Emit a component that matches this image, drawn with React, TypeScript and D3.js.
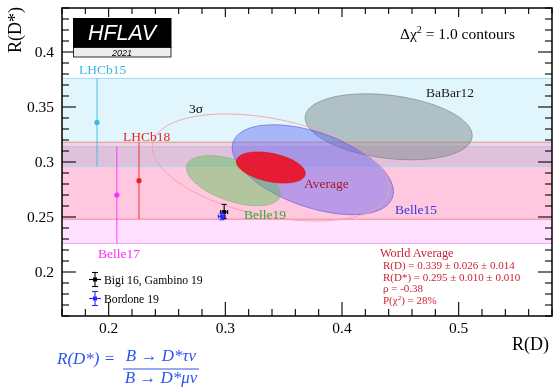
import React from "react";
import * as d3 from "d3";

// ---------- data ----------
const bandNames = ["LHCb15", "LHCb18", "Belle17"];
const bandX = [0.19, 0.226, 0.207];
const bandVal = [0.336, 0.283, 0.27];
const bandLo = [0.296, 0.248, 0.226];
const bandHi = [0.376, 0.318, 0.314];

const ellNames = ["BaBar12", "Belle15", "Belle19"];
const ellRD = [0.44, 0.375, 0.307];
const ellRDstat = [0.058, 0.064, 0.037];
const ellRDsyst = [0.042, 0.026, 0.016];
const ellRDs = [0.332, 0.293, 0.283];
const ellRDsStat = [0.024, 0.038, 0.018];
const ellRDsSyst = [0.018, 0.015, 0.014];
const ellRho = [-0.27, -0.49, -0.51];

const avgRD = 0.339, avgRDstat = 0.026, avgRDsyst = 0.014;
const avgRDs = 0.295, avgRDsStat = 0.01, avgRDsSyst = 0.01;
const avgRho = -0.38;
const sigma3Chi2 = 11.83;

const smNames = ["Bigi 16, Gambino 19", "Bordone 19"];
const smRD = [0.299, 0.297];
const smRDerr = [0.003, 0.003];
const smRDs = [0.2545, 0.2505];
const smRDsErrUp = [0.007, 0.003];
const smRDsErrDn = [0.006, 0.003];

const xTicks = [0.2, 0.3, 0.4, 0.5];
const yTicks = [0.2, 0.25, 0.3, 0.35, 0.4];
const waLines = [
  "R(D) = 0.339 ± 0.026 ± 0.014",
  "R(D*) = 0.295 ± 0.010 ± 0.010",
  "ρ = -0.38",
];

// ---------- layout ----------
const L = 62, R = 552, T = 8, B = 316;
const x = d3.scaleLinear().domain([0.16, 0.58]).range([L, R]);
const y = d3.scaleLinear().domain([0.16, 0.44]).range([B, T]);

const SERIF = "'Liberation Serif', 'Times New Roman', serif";

function ellipsePath(cx: number, cy: number, sx: number, sy: number, rho: number, k = 1) {
  const pts: [number, number][] = d3.range(0, 180).map((i) => {
    const t = (i / 180) * 2 * Math.PI;
    const dx = k * sx * Math.cos(t);
    const dy = k * sy * (rho * Math.cos(t) + Math.sqrt(1 - rho * rho) * Math.sin(t));
    return [x(cx + dx), y(cy + dy)];
  });
  return d3.line().curve(d3.curveLinearClosed)(pts) || "";
}

const bandFill = ["#e0f6fc", "#ffe4df", "#ffe0ff"];
const bandLine = ["#a6d8f2", "#f08a98", "#eea8ee"];
const bandColor = ["#3cb8e8", "#ee2222", "#ff2aff"];
const bandLabelPos = [[0.1746, 0.38], [0.2123, 0.3191], [0.1909, 0.2127]];

const ellFill = ["#7f8c8d", "#5a5af0", "#57c150"];
const ellFillOp = [0.5, 0.42, 0.45];
const ellStroke = ["#6a7478", "#4a4ae8", "#7ab070"];
const ellLabelColor = ["#1a1a1a", "#3535e0", "#33aa33"];
const ellLabelPos = [[0.472, 0.359], [0.4454, 0.2527], [0.316, 0.2482]];

const smColor = ["#000000", "#2a2aff"];

export default function App() {
  const xMinor = d3.range(0.16, 0.5801, 0.02);
  const yMinor = d3.range(0.16, 0.4401, 0.01);
  const isMajorX = (v: number) => xTicks.some((t) => Math.abs(t - v) < 1e-6);
  const isMajorY = (v: number) => yTicks.some((t) => Math.abs(t - v) < 1e-6);

  return (
    <svg width={554} height={388} style={{ display: "block", position: "absolute", left: 0, top: 0 }}>
      <rect x={0} y={0} width={554} height={388} fill="#fff" />
      {/* bands */}
      <g>
        {bandNames.map((n, i) => (
          <rect key={n} x={L} width={R - L} y={y(bandHi[i])} height={y(bandLo[i]) - y(bandHi[i])}
            fill={bandFill[i]} style={{ mixBlendMode: "multiply" }} />
        ))}
        {bandNames.map((n, i) => (
          <g key={n + "l"}>
            <line x1={L} x2={R} y1={y(bandHi[i])} y2={y(bandHi[i])} stroke={bandLine[i]} strokeWidth={1} />
            <line x1={L} x2={R} y1={y(bandLo[i])} y2={y(bandLo[i])} stroke={bandLine[i]} strokeWidth={1} />
          </g>
        ))}
      </g>

      {/* experiment ellipses */}
      {ellNames.map((n, i) => (
        <path key={n}
          d={ellipsePath(ellRD[i], ellRDs[i], Math.hypot(ellRDstat[i], ellRDsyst[i]), Math.hypot(ellRDsStat[i], ellRDsSyst[i]), ellRho[i])}
          fill={ellFill[i]} fillOpacity={ellFillOp[i]} stroke={ellStroke[i]} strokeOpacity={0.7} strokeWidth={0.8} />
      ))}
      {/* 3 sigma */}
      <path d={ellipsePath(avgRD, avgRDs, Math.hypot(avgRDstat, avgRDsyst), Math.hypot(avgRDsStat, avgRDsSyst), avgRho, Math.sqrt(sigma3Chi2))}
        fill="none" stroke="#f2a0a6" strokeWidth={0.9} />
      {/* average */}
      <path d={ellipsePath(avgRD, avgRDs, Math.hypot(avgRDstat, avgRDsyst), Math.hypot(avgRDsStat, avgRDsSyst), avgRho)}
        fill="#ec1026" fillOpacity={0.92} stroke="#d01020" strokeWidth={0.6} />

      {/* band points */}
      {bandNames.map((n, i) => (
        <g key={n + "p"}>
          <line x1={x(bandX[i])} x2={x(bandX[i])} y1={y(bandLo[i])} y2={y(bandHi[i])} stroke={bandColor[i]} strokeOpacity={0.75} strokeWidth={1.2} />
          <circle cx={x(bandX[i])} cy={y(bandVal[i])} r={2.6} fill={bandColor[i]} />
        </g>
      ))}

      {/* SM points */}
      {smNames.map((n, i) => {
        const cx = x(smRD[i]), cy = y(smRDs[i]);
        return (
          <g key={n} stroke={smColor[i]} strokeWidth={1.1}>
            <line x1={x(smRD[i] - smRDerr[i])} x2={x(smRD[i] + smRDerr[i])} y1={cy} y2={cy} />
            <line x1={cx} x2={cx} y1={y(smRDs[i] - smRDsErrDn[i])} y2={y(smRDs[i] + smRDsErrUp[i])} />
            <line x1={cx - 2.5} x2={cx + 2.5} y1={y(smRDs[i] + smRDsErrUp[i])} y2={y(smRDs[i] + smRDsErrUp[i])} />
            <line x1={cx - 2.5} x2={cx + 2.5} y1={y(smRDs[i] - smRDsErrDn[i])} y2={y(smRDs[i] - smRDsErrDn[i])} />
            <line x1={x(smRD[i] - smRDerr[i])} x2={x(smRD[i] - smRDerr[i])} y1={cy - 2} y2={cy + 2} />
            <line x1={x(smRD[i] + smRDerr[i])} x2={x(smRD[i] + smRDerr[i])} y1={cy - 2} y2={cy + 2} />
            <rect x={cx - 2} y={cy - 2} width={4} height={4} fill={smColor[i]} stroke="none" />
          </g>
        );
      })}

      {/* frame and ticks */}
      <g stroke="#000" strokeWidth={1.1}>
        {xMinor.map((v) => {
          const len = isMajorX(v) ? 14 : 7;
          const lenT = isMajorX(v) ? 9 : 6;
          return (
            <g key={"x" + v}>
              <line x1={x(v)} x2={x(v)} y1={B} y2={B - len} />
              <line x1={x(v)} x2={x(v)} y1={T} y2={T + lenT} />
            </g>
          );
        })}
        {yMinor.map((v) => {
          const len = isMajorY(v) ? 14 : 7;
          return (
            <g key={"y" + v}>
              <line x1={L} x2={L + len} y1={y(v)} y2={y(v)} />
              <line x1={R} x2={R - len} y1={y(v)} y2={y(v)} />
            </g>
          );
        })}
      </g>
      <rect x={L} y={T} width={R - L} height={B - T} fill="none" stroke="#000" strokeWidth={1.5} />

      {/* tick labels */}
      <g fontFamily={SERIF} fontSize={15.5} fill="#000">
        {xTicks.map((t) => (
          <text key={t} x={x(t)} y={333} textAnchor="middle">{String(t)}</text>
        ))}
        {yTicks.map((t) => (
          <text key={t} x={54} y={y(t) + 5} textAnchor="end">{String(t)}</text>
        ))}
      </g>
      {/* axis titles */}
      <text transform="translate(21,7) rotate(-90)" textAnchor="end" fontFamily={SERIF} fontSize={18}>R(D*)</text>
      <text x={549} y={350} textAnchor="end" fontFamily={SERIF} fontSize={18}>R(D)</text>

      {/* HFLAV logo */}
      <rect x={73.5} y={18.5} width={97.5} height={29} fill="#000" stroke="#000" />
      <rect x={73.5} y={47.5} width={97.5} height={9.5} fill="#ececec" stroke="#000" strokeWidth={0.8} />
      <text x={122} y={40} textAnchor="middle" fontFamily="'Liberation Sans', Arial, sans-serif" fontStyle="italic" fontSize={21.5} fill="#fff">HFLAV</text>
      <text x={122} y={55.5} textAnchor="middle" fontFamily="'Liberation Sans', Arial, sans-serif" fontStyle="italic" fontSize={9} fill="#000">2021</text>

      {/* contour note */}
      <text x={400} y={39} fontFamily={SERIF} fontSize={15.5}>
        Δχ<tspan dy={-6} fontSize={10}>2</tspan><tspan dy={6}> = 1.0 contours</tspan>
      </text>

      {/* labels */}
      <g fontFamily={SERIF} fontSize={13.5}>
        {bandNames.map((n, i) => (
          <text key={n} x={x(bandLabelPos[i][0])} y={y(bandLabelPos[i][1])} fill={bandColor[i]}>{n}</text>
        ))}
        {ellNames.map((n, i) => (
          <text key={n} x={x(ellLabelPos[i][0])} y={y(ellLabelPos[i][1])} fill={ellLabelColor[i]}>{n}</text>
        ))}
        <text x={x(0.3674)} y={y(0.2764)} fill="#a8142e">Average</text>
        <text x={x(0.2689)} y={y(0.3445)} fill="#000">3σ</text>
      </g>

      {/* world average box */}
      <g fontFamily={SERIF} fill="#cc2233">
        <text x={380} y={257} fontSize={12.3}>World Average</text>
        {waLines.map((s, i) => (
          <text key={s} x={383} y={269 + i * 11.5} fontSize={11}>{s}</text>
        ))}
        <text x={383} y={303.5} fontSize={11}>
          P(χ<tspan dy={-4} fontSize={7}>2</tspan><tspan dy={4}>) = 28%</tspan>
        </text>
      </g>

      {/* legend */}
      {smNames.map((n, i) => {
        const cy = 279.5 + i * 19;
        const c = smColor[i];
        return (
          <g key={n + "leg"}>
            <g stroke={c} strokeWidth={1.1}>
              <line x1={89} x2={101} y1={cy} y2={cy} />
              <line x1={95} x2={95} y1={cy - 7} y2={cy + 7} />
              <line x1={92} x2={98} y1={cy - 7} y2={cy - 7} />
              <line x1={92} x2={98} y1={cy + 7} y2={cy + 7} />
              <rect x={93} y={cy - 2} width={4} height={4} fill={c} stroke="none" />
            </g>
            <text x={104} y={cy + 4.5} fontFamily={SERIF} fontSize={11.7} fill="#000">{n}</text>
          </g>
        );
      })}

      {/* formula */}
      <g fontFamily={SERIF} fontStyle="italic" fontSize={17} fill="#2d55f0">
        <text x={57} y={364}>R(D*) =</text>
        <text x={161} y={361} textAnchor="middle">B → D*τν</text>
        <line x1={123} x2={199} y1={369} y2={369} stroke="#2d55f0" strokeWidth={1} />
        <text x={161} y={383} textAnchor="middle">B → D*μν</text>
      </g>
    </svg>
  );
}
